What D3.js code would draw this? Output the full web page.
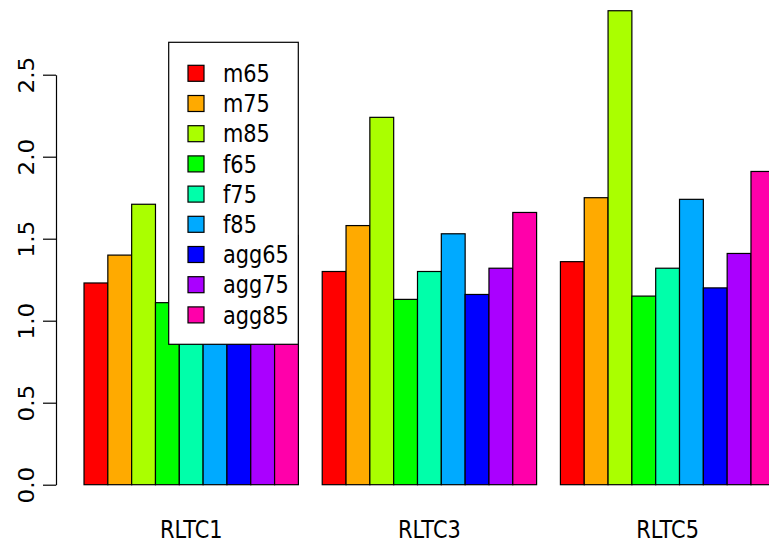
<!DOCTYPE html>
<html>
<head>
<meta charset="utf-8">
<script src="https://cdn.jsdelivr.net/npm/d3@7"></script>
<style>
  body { margin: 0; background: #fff; }
  svg { display: block; }
  text { font-family: "DejaVu Sans", sans-serif; fill: #000; }
</style>
</head>
<body>
<svg width="769" height="543"></svg>
<script>
const groups = ['RLTC1', 'RLTC3', 'RLTC5'];
const series = ['m65', 'm75', 'm85', 'f65', 'f75', 'f85', 'agg65', 'agg75', 'agg85'];
const colors = ['#FF0000', '#FFAA00', '#AAFF00', '#00FF00', '#00FFAA', '#00AAFF', '#0000FF', '#AA00FF', '#FF00AA'];
// one row per group, one value per series (RLTC1 f75..agg85 sit behind the legend)
const values = [
  [1.23, 1.40, 1.71, 1.11, 1.22, 1.38, 1.14, 1.29, 1.52],
  [1.30, 1.58, 2.24, 1.13, 1.30, 1.53, 1.16, 1.32, 1.66],
  [1.36, 1.75, 2.89, 1.15, 1.32, 1.74, 1.20, 1.41, 1.91],
];
const yTicks = [0, 0.5, 1, 1.5, 2, 2.5];

const svg = d3.select('svg');

const x0 = d3.scaleBand()
  .domain(groups)
  .range([60.2, 774.8])
  .paddingInner(0.1)
  .paddingOuter(0.05)
  .align(1);

const x1 = d3.scaleBand()
  .domain(series)
  .range([0, x0.bandwidth()]);

const y = d3.scaleLinear()
  .domain([0, 2.5])
  .range([484.7, 74.7]);

const color = d3.scaleOrdinal().domain(series).range(colors);

// text in the source is a bit condensed
const squeeze = 0.87;

// bars
const group = svg.append('g')
  .selectAll('g')
  .data(groups)
  .enter()
  .append('g')
  .attr('transform', (d) => `translate(${x0(d)},0)`);

group.selectAll('rect')
  .data((d, i) => series.map((s, j) => ({ key: s, value: values[i][j] })))
  .enter()
  .append('rect')
  .attr('x', (d) => x1(d.key))
  .attr('y', (d) => y(d.value))
  .attr('width', x1.bandwidth())
  .attr('height', (d) => y(0) - y(d.value))
  .attr('fill', (d) => color(d.key))
  .attr('stroke', '#000')
  .attr('stroke-width', 1.2);

// y axis
const yAxis = svg.append('g')
  .attr('transform', 'translate(56,0)')
  .call(d3.axisLeft(y).tickValues(yTicks).tickFormat(d3.format('.1f')).tickSize(13).tickSizeOuter(0));

yAxis.select('.domain').attr('stroke', '#000').attr('stroke-width', 1.2);
yAxis.selectAll('.tick line').attr('stroke', '#000').attr('stroke-width', 1.2);
yAxis.selectAll('.tick text')
  .attr('x', null)
  .attr('dy', null)
  .attr('transform', `translate(-22,0) rotate(-90) scale(1.05,${squeeze + 0.1})`)
  .attr('text-anchor', 'middle')
  .style('font-family', '"DejaVu Sans", sans-serif')
  .style('font-size', '22px');

// group labels
svg.append('g')
  .selectAll('text')
  .data(groups)
  .enter()
  .append('text')
  .attr('transform', (d) => `translate(${x0(d) + x0.bandwidth() / 2},538) scale(${squeeze},1)`)
  .attr('text-anchor', 'middle')
  .style('font-size', '24px')
  .text((d) => d);

// legend
const legend = svg.append('g');
legend.append('rect')
  .attr('x', 168.7)
  .attr('y', 42.3)
  .attr('width', 129.6)
  .attr('height', 302)
  .attr('fill', '#fff')
  .attr('stroke', '#000')
  .attr('stroke-width', 1.2);

const item = legend.selectAll('g.item')
  .data(series)
  .enter()
  .append('g')
  .attr('class', 'item')
  .attr('transform', (d, i) => `translate(0,${73.3 + i * 30.2})`);

item.append('rect')
  .attr('x', 188)
  .attr('y', -8)
  .attr('width', 16)
  .attr('height', 16)
  .attr('fill', (d) => color(d))
  .attr('stroke', '#000')
  .attr('stroke-width', 1.2);

item.append('text')
  .attr('transform', `translate(223,8.7) scale(${squeeze},1)`)
  .style('font-size', '24px')
  .text((d) => d);
</script>
</body>
</html>
